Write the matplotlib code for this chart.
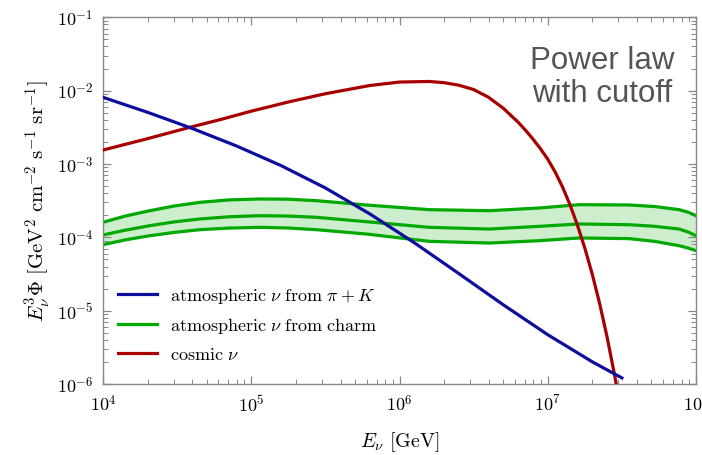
import numpy as np
import matplotlib
matplotlib.use("Agg")
import matplotlib.pyplot as plt
from matplotlib.ticker import FuncFormatter, LogLocator, NullFormatter

plt.rcParams["mathtext.fontset"] = "cm"

# log10 values
pik_logE = [4.0, 4.3, 4.6, 4.9, 5.2, 5.5, 5.8, 6.1, 6.4, 6.7, 7.0, 7.3, 7.5]
pik_logF = [-2.091, -2.295, -2.514, -2.754, -3.021, -3.327, -3.681, -4.074, -4.494, -4.92, -5.328, -5.697, -5.917]

cosmic_logE = [4.0, 4.3, 4.586, 4.8, 5.0, 5.25, 5.5, 5.8, 6.0, 6.2, 6.3, 6.4, 6.5, 6.6, 6.7, 6.8,
               6.85, 6.9, 6.95, 7.0, 7.05, 7.1, 7.15, 7.2, 7.25, 7.3, 7.35, 7.4, 7.45, 7.47]
cosmic_logF = [-2.81, -2.655, -2.50, -2.39, -2.28, -2.155, -2.042, -1.93, -1.883, -1.875, -1.891, -1.926,
               -1.985, -2.09, -2.24, -2.43, -2.54, -2.66, -2.79, -2.935, -3.11, -3.315, -3.556, -3.833,
               -4.146, -4.501, -4.903, -5.357, -5.87, -6.094]

charm_logE = [4.0, 4.15, 4.316, 4.48, 4.653, 4.85, 5.057, 5.25, 5.439, 5.776, 6.202, 6.606, 6.943,
              7.212, 7.549, 7.72, 7.886, 7.95, 8.0]
charm_hi = [-3.795, -3.71, -3.637, -3.573, -3.523, -3.49, -3.477, -3.48, -3.50, -3.559, -3.623, -3.637,
            -3.60, -3.555, -3.559, -3.58, -3.623, -3.66, -3.705]
charm_mid = [-3.968, -3.903, -3.841, -3.79, -3.75, -3.72, -3.705, -3.71, -3.727, -3.787, -3.864, -3.887,
             -3.85, -3.818, -3.828, -3.85, -3.887, -3.93, -3.978]
charm_lo = [-4.10, -4.035, -3.978, -3.933, -3.896, -3.874, -3.864, -3.873, -3.896, -3.955, -4.055, -4.078,
            -4.046, -4.009, -4.018, -4.055, -4.114, -4.148, -4.182]

blue = "#0d0d9e"
red = "#a80000"
green = "#00a800"

fig = plt.figure(figsize=(7.02, 4.56), dpi=100)
ax = fig.add_axes([103 / 702, 1 - 385 / 456, 593 / 702, 366.7 / 456])

E = 10 ** np.array(charm_logE)
ax.fill_between(E, 10 ** np.array(charm_lo), 10 ** np.array(charm_hi), color="#cdeecd", lw=0)
ax.plot(E, 10 ** np.array(charm_hi), color=green, lw=2.3, solid_joinstyle="round")
ax.plot(E, 10 ** np.array(charm_lo), color=green, lw=2.3, solid_joinstyle="round")
ax.plot(10 ** np.array(pik_logE), 10 ** np.array(pik_logF), color=blue, lw=2.3,
        label=r"$\mathrm{atmospheric}\ \nu\ \mathrm{from}\ \pi+K$", zorder=4)
ax.plot(E, 10 ** np.array(charm_mid), color=green, lw=2.3, solid_joinstyle="round",
        label=r"$\mathrm{atmospheric}\ \nu\ \mathrm{from\ charm}$")
ax.plot(10 ** np.array(cosmic_logE), 10 ** np.array(cosmic_logF), color=red, lw=2.3,
        label=r"$\mathrm{cosmic}\ \nu$", zorder=3)

ax.set_xscale("log")
ax.set_yscale("log")
ax.set_xlim(1e4, 1e8)
ax.set_ylim(1e-6, 1e-1)

fmt = FuncFormatter(lambda v, p: r"$10^{%d}$" % round(np.log10(v)))
ax.xaxis.set_major_formatter(fmt)
ax.yaxis.set_major_formatter(fmt)
for a in (ax.xaxis, ax.yaxis):
    a.set_minor_locator(LogLocator(base=10, subs=np.arange(2, 10), numticks=20))
    a.set_minor_formatter(NullFormatter())
ax.tick_params(which="both", direction="in", top=True, right=True, color="#888888",
               labelsize=13, pad=7)
ax.tick_params(which="major", length=6, width=0.9)
ax.tick_params(which="minor", length=3.5, width=0.7)
for s in ax.spines.values():
    s.set_color("#888888")
    s.set_linewidth(1.0)

ax.set_xlabel(r"$E_\nu\ [\mathrm{GeV}]$", fontsize=14.5, labelpad=11)
ax.set_ylabel(r"$E_\nu^3\Phi\ [\mathrm{GeV}^2\ \mathrm{cm}^{-2}\ \mathrm{s}^{-1}\ \mathrm{sr}^{-1}]$",
              fontsize=15, labelpad=3)

ax.text(0.842, 0.838, "Power law\nwith cutoff", transform=ax.transAxes, ha="center", va="center",
        fontsize=22.5, color="#555555", family="Liberation Sans", linespacing=1.12)

ax.legend(loc="lower left", bbox_to_anchor=(-0.002, 0.013), frameon=False, fontsize=13,
          handlelength=2.15, handletextpad=0.72, labelspacing=0.55)

fig.savefig("out.png", dpi=100)
